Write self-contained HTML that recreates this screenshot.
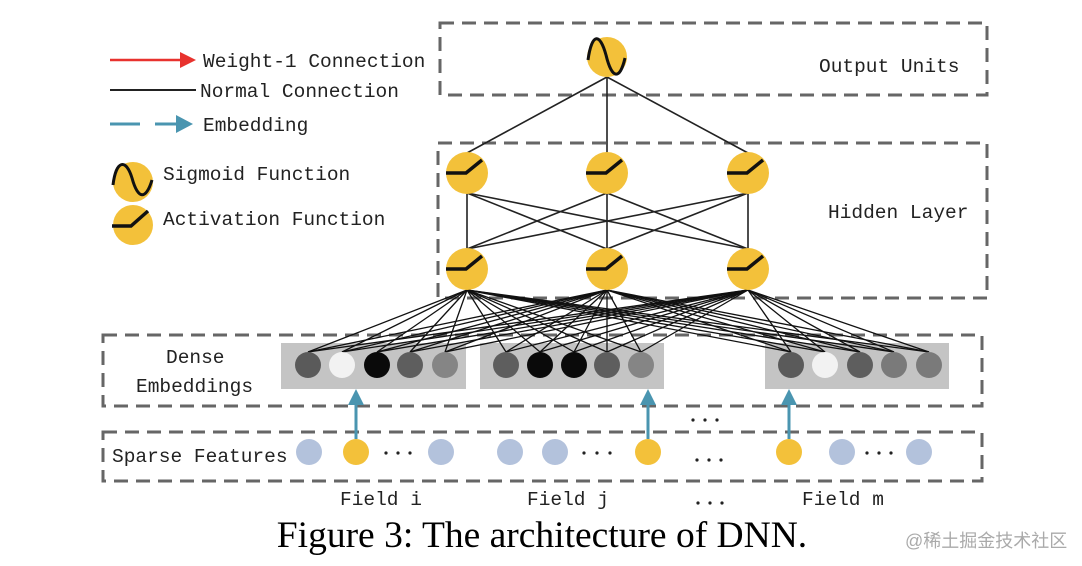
<!DOCTYPE html>
<html><head><meta charset="utf-8"><style>
html,body{margin:0;padding:0;background:#fff;}
svg{display:block;}
.m{font-family:"Liberation Mono",monospace;font-size:19.5px;fill:#222;}
</style></head><body>
<svg width="1082" height="566" viewBox="0 0 1082 566" xmlns="http://www.w3.org/2000/svg">
<!-- dashed boxes -->
<g fill="none" stroke="#666" stroke-width="3" stroke-dasharray="14,8">
<rect x="440" y="23" width="547" height="72"/>
<rect x="438" y="143" width="549" height="155"/>
<rect x="103" y="335" width="879" height="71"/>
<rect x="103" y="432" width="879" height="49"/>
</g>
<!-- legend -->
<line x1="110" y1="60" x2="186" y2="60" stroke="#e8322e" stroke-width="2.5"/>
<path d="M180,52 L196,60 L180,68 z" fill="#e8322e"/>
<line x1="110" y1="90" x2="196" y2="90" stroke="#222" stroke-width="2"/>
<line x1="110" y1="124" x2="140" y2="124" stroke="#4a95b0" stroke-width="3"/>
<line x1="155" y1="124" x2="180" y2="124" stroke="#4a95b0" stroke-width="3"/>
<path d="M176,115 L193,124 L176,133 z" fill="#4a95b0"/>
<text class="m" x="203" y="67">Weight-1 Connection</text>
<text class="m" x="200" y="97">Normal Connection</text>
<text class="m" x="203" y="131">Embedding</text>
<text class="m" x="163" y="180">Sigmoid Function</text>
<text class="m" x="163" y="225">Activation Function</text>
<circle cx="133" cy="182" r="20" fill="#f3c13a"/>
<path d="M113,185 C116,160 126,158 132,178 C138,200 146,200 152,180" fill="none" stroke="#111" stroke-width="3"/>
<circle cx="133" cy="225" r="20" fill="#f3c13a"/>
<path d="M112,226 L131,226 L148,211" fill="none" stroke="#111" stroke-width="3.5"/>
<!-- output lines -->
<g stroke="#222" stroke-width="1.6">
<line x1="607" y1="77" x2="467" y2="153"/>
<line x1="607" y1="77" x2="607" y2="153"/>
<line x1="607" y1="77" x2="748" y2="153"/>
<line x1="467" y1="193" x2="467" y2="249"/><line x1="467" y1="193" x2="607" y2="249"/><line x1="467" y1="193" x2="748" y2="249"/>
<line x1="607" y1="193" x2="467" y2="249"/><line x1="607" y1="193" x2="607" y2="249"/><line x1="607" y1="193" x2="748" y2="249"/>
<line x1="748" y1="193" x2="467" y2="249"/><line x1="748" y1="193" x2="607" y2="249"/><line x1="748" y1="193" x2="748" y2="249"/>
</g>
<!-- gray rects -->
<rect x="281" y="343" width="185" height="46" fill="#c4c4c4"/>
<rect x="480" y="343" width="184" height="46" fill="#c4c4c4"/>
<rect x="765" y="343" width="184" height="46" fill="#c4c4c4"/>
<!-- dense connections -->
<g stroke="#111" stroke-width="1.3">
<line x1="467" y1="290" x2="308" y2="352"/><line x1="467" y1="290" x2="342" y2="352"/><line x1="467" y1="290" x2="377" y2="352"/><line x1="467" y1="290" x2="410" y2="352"/><line x1="467" y1="290" x2="445" y2="352"/>
<line x1="467" y1="290" x2="506" y2="352"/><line x1="467" y1="290" x2="540" y2="352"/><line x1="467" y1="290" x2="574" y2="352"/><line x1="467" y1="290" x2="607" y2="352"/><line x1="467" y1="290" x2="641" y2="352"/>
<line x1="467" y1="290" x2="791" y2="352"/><line x1="467" y1="290" x2="825" y2="352"/><line x1="467" y1="290" x2="860" y2="352"/><line x1="467" y1="290" x2="894" y2="352"/><line x1="467" y1="290" x2="929" y2="352"/>
<line x1="607" y1="290" x2="308" y2="352"/><line x1="607" y1="290" x2="342" y2="352"/><line x1="607" y1="290" x2="377" y2="352"/><line x1="607" y1="290" x2="410" y2="352"/><line x1="607" y1="290" x2="445" y2="352"/>
<line x1="607" y1="290" x2="506" y2="352"/><line x1="607" y1="290" x2="540" y2="352"/><line x1="607" y1="290" x2="574" y2="352"/><line x1="607" y1="290" x2="607" y2="352"/><line x1="607" y1="290" x2="641" y2="352"/>
<line x1="607" y1="290" x2="791" y2="352"/><line x1="607" y1="290" x2="825" y2="352"/><line x1="607" y1="290" x2="860" y2="352"/><line x1="607" y1="290" x2="894" y2="352"/><line x1="607" y1="290" x2="929" y2="352"/>
<line x1="748" y1="290" x2="308" y2="352"/><line x1="748" y1="290" x2="342" y2="352"/><line x1="748" y1="290" x2="377" y2="352"/><line x1="748" y1="290" x2="410" y2="352"/><line x1="748" y1="290" x2="445" y2="352"/>
<line x1="748" y1="290" x2="506" y2="352"/><line x1="748" y1="290" x2="540" y2="352"/><line x1="748" y1="290" x2="574" y2="352"/><line x1="748" y1="290" x2="607" y2="352"/><line x1="748" y1="290" x2="641" y2="352"/>
<line x1="748" y1="290" x2="791" y2="352"/><line x1="748" y1="290" x2="825" y2="352"/><line x1="748" y1="290" x2="860" y2="352"/><line x1="748" y1="290" x2="894" y2="352"/><line x1="748" y1="290" x2="929" y2="352"/>
</g>
<!-- dense circles -->
<circle cx="308" cy="365" r="13" fill="#5a5a5a"/><circle cx="342" cy="365" r="13" fill="#f2f2f2"/><circle cx="377" cy="365" r="13" fill="#0a0a0a"/><circle cx="410" cy="365" r="13" fill="#5e5e5e"/><circle cx="445" cy="365" r="13" fill="#858585"/>
<circle cx="506" cy="365" r="13" fill="#5e5e5e"/><circle cx="540" cy="365" r="13" fill="#0a0a0a"/><circle cx="574" cy="365" r="13" fill="#0a0a0a"/><circle cx="607" cy="365" r="13" fill="#5e5e5e"/><circle cx="641" cy="365" r="13" fill="#858585"/>
<circle cx="791" cy="365" r="13" fill="#5a5a5a"/><circle cx="825" cy="365" r="13" fill="#f2f2f2"/><circle cx="860" cy="365" r="13" fill="#5e5e5e"/><circle cx="894" cy="365" r="13" fill="#7a7a7a"/><circle cx="929" cy="365" r="13" fill="#7a7a7a"/>
<!-- nodes -->
<g fill="#f3c13a">
<circle cx="607" cy="57" r="20"/>
<circle cx="467" cy="173" r="21"/><circle cx="607" cy="173" r="21"/><circle cx="748" cy="173" r="21"/>
<circle cx="467" cy="269" r="21"/><circle cx="607" cy="269" r="21"/><circle cx="748" cy="269" r="21"/>
</g>
<path d="M588,60 C592,32 600,33 606,55 C612,80 620,80 625,58" fill="none" stroke="#111" stroke-width="3"/>
<g fill="none" stroke="#111" stroke-width="3.5">
<path d="M446,173 L466,173 L482,160"/><path d="M586,173 L606,173 L622,160"/><path d="M727,173 L747,173 L763,160"/>
<path d="M446,269 L466,269 L482,256"/><path d="M586,269 L606,269 L622,256"/><path d="M727,269 L747,269 L763,256"/>
</g>
<text class="m" x="819" y="72">Output Units</text>
<text class="m" x="828" y="218">Hidden Layer</text>
<text class="m" x="166" y="363">Dense</text>
<text class="m" x="136" y="392">Embeddings</text>
<text class="m" x="112" y="462">Sparse Features</text>
<!-- sparse circles -->
<g fill="#b3c2dc">
<circle cx="309" cy="452" r="13"/><circle cx="441" cy="452" r="13"/><circle cx="510" cy="452" r="13"/><circle cx="555" cy="452" r="13"/><circle cx="842" cy="452" r="13"/><circle cx="919" cy="452" r="13"/>
</g>
<g fill="#f3c13a"><circle cx="356" cy="452" r="13"/><circle cx="648" cy="452" r="13"/><circle cx="789" cy="452" r="13"/></g>
<g stroke="#4a95b0" stroke-width="3"><line x1="356" y1="439" x2="356" y2="400"/><line x1="648" y1="439" x2="648" y2="400"/><line x1="789" y1="439" x2="789" y2="400"/></g>
<g fill="#4a95b0"><path d="M348,405 L356,389 L364,405 z"/><path d="M640,405 L648,389 L656,405 z"/><path d="M781,405 L789,389 L797,405 z"/></g>
<g fill="#222">
<circle cx="386" cy="453" r="1.6"/><circle cx="398" cy="453" r="1.6"/><circle cx="410" cy="453" r="1.6"/>
<circle cx="584" cy="453" r="1.6"/><circle cx="597" cy="453" r="1.6"/><circle cx="610" cy="453" r="1.6"/>
<circle cx="697" cy="460" r="1.6"/><circle cx="709" cy="460" r="1.6"/><circle cx="721" cy="460" r="1.6"/>
<circle cx="693" cy="420" r="1.6"/><circle cx="705" cy="420" r="1.6"/><circle cx="717" cy="420" r="1.6"/>
<circle cx="867" cy="453" r="1.6"/><circle cx="879" cy="453" r="1.6"/><circle cx="891" cy="453" r="1.6"/>
<circle cx="698" cy="503" r="1.6"/><circle cx="710" cy="503" r="1.6"/><circle cx="722" cy="503" r="1.6"/>
</g>
<text class="m" x="340" y="505">Field i</text>
<text class="m" x="527" y="505">Field j</text>
<text class="m" x="802" y="505">Field m</text>
<text x="542" y="547" text-anchor="middle" font-family="Liberation Serif,serif" font-size="37.5" fill="#000">Figure 3: The architecture of DNN.</text>
<text x="905" y="547" font-family="Liberation Sans,Noto Sans CJK SC,sans-serif" font-size="18" fill="#aaa">@稀土掘金技术社区</text>
</svg>
</body></html>
